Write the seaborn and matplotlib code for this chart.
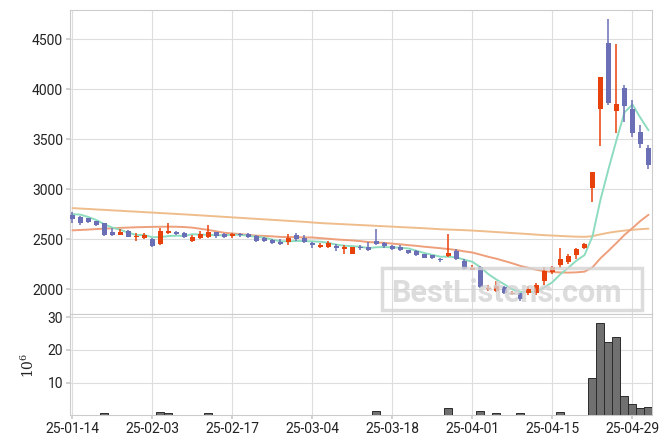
import matplotlib
import matplotlib.pyplot as plt
import numpy as np
import pandas as pd
import seaborn as sns
from matplotlib.patches import Rectangle

matplotlib.use("Agg")

# x tick labels (every 10 trading days)
TICK_LABELS = ["25-01-14", "25-02-03", "25-02-17", "25-03-04",
               "25-03-18", "25-04-01", "25-04-15", "25-04-29"]

# daily OHLC
OPEN = [2740, 2727, 2710, 2680, 2660, 2570, 2543, 2580, 2523, 2510,
        2507, 2453, 2560, 2573, 2560, 2480, 2513, 2523, 2570, 2553,
        2533, 2553, 2553, 2530, 2510, 2493, 2477, 2473, 2540, 2510,
        2463, 2423, 2423, 2433, 2407, 2357, 2423, 2427, 2483, 2463,
        2437, 2423, 2390, 2380, 2350, 2340, 2303, 2333, 2380, 2283,
        2193, 2223, 2000, 1983, 2023, 1953, 1960, 1960, 1960, 2080,
        2170, 2240, 2273, 2343, 2417, 3010, 3807, 4460, 3783, 4010,
        3807, 3577, 3417]
HIGH = [2773, 2730, 2715, 2687, 2663, 2617, 2607, 2590, 2567, 2567,
        2513, 2613, 2660, 2583, 2573, 2540, 2583, 2640, 2577, 2560,
        2567, 2567, 2560, 2540, 2520, 2507, 2507, 2550, 2567, 2540,
        2473, 2467, 2483, 2457, 2443, 2420, 2440, 2473, 2600, 2473,
        2443, 2447, 2393, 2390, 2353, 2343, 2317, 2550, 2400, 2300,
        2240, 2230, 2040, 2083, 2033, 1987, 1967, 2030, 2060, 2225,
        2235, 2410, 2357, 2410, 2460, 3177, 4127, 4707, 4450, 4043,
        3893, 3643, 3443]
LOW = [2663, 2647, 2667, 2633, 2537, 2537, 2543, 2520, 2483, 2503,
       2427, 2447, 2550, 2547, 2517, 2473, 2507, 2510, 2513, 2517,
       2513, 2520, 2513, 2477, 2473, 2450, 2447, 2447, 2487, 2460,
       2410, 2410, 2413, 2383, 2357, 2357, 2397, 2383, 2440, 2413,
       2397, 2383, 2353, 2333, 2313, 2307, 2273, 2327, 2290, 2193,
       2193, 2017, 1983, 1977, 1950, 1943, 1887, 1940, 1947, 2047,
       2150, 2217, 2250, 2300, 2407, 2877, 3433, 3843, 3560, 3673,
       3527, 3417, 3207]
CLOSE = [2707, 2667, 2673, 2643, 2547, 2543, 2570, 2527, 2533, 2540,
         2433, 2580, 2580, 2553, 2527, 2520, 2553, 2570, 2537, 2523,
         2553, 2543, 2523, 2483, 2483, 2460, 2457, 2517, 2503, 2477,
         2443, 2440, 2463, 2413, 2423, 2420, 2410, 2393, 2457, 2433,
         2403, 2393, 2360, 2343, 2317, 2313, 2297, 2367, 2303, 2200,
         2210, 2023, 2017, 2033, 1960, 1967, 1900, 2007, 2047, 2180,
         2228, 2300, 2330, 2400, 2450, 3177, 4127, 3860, 3857, 3833,
         3567, 3457, 3243]

# moving averages as drawn on the chart
MA5 = [2753, 2747, 2723, 2693, 2650, 2617, 2595, 2566, 2544, 2543,
       2521, 2523, 2533, 2537, 2535, 2552, 2547, 2545, 2541, 2541,
       2547, 2545, 2536, 2525, 2517, 2498, 2481, 2480, 2484, 2483,
       2479, 2476, 2465, 2447, 2436, 2432, 2426, 2412, 2421, 2423,
       2419, 2416, 2409, 2386, 2363, 2345, 2326, 2327, 2319, 2296,
       2275, 2221, 2151, 2097, 2049, 2000, 1975, 1973, 1976, 2020,
       2072, 2152, 2217, 2288, 2342, 2531, 2897, 3203, 3494, 3771,
       3849, 3715, 3591]
MA20 = [2590, 2594, 2598, 2603, 2607, 2611, 2615, 2618, 2621, 2623,
        2625, 2626, 2627, 2626, 2623, 2617, 2606, 2594, 2580, 2566,
        2559, 2552, 2545, 2537, 2534, 2530, 2524, 2523, 2522, 2519,
        2519, 2512, 2506, 2499, 2494, 2489, 2482, 2473, 2469, 2465,
        2457, 2450, 2442, 2435, 2426, 2419, 2411, 2403, 2393, 2380,
        2368, 2347, 2325, 2306, 2283, 2260, 2234, 2215, 2195, 2182,
        2173, 2169, 2167, 2170, 2177, 2220, 2311, 2386, 2464, 2545,
        2613, 2685, 2746]
MA120 = [2813, 2808, 2804, 2799, 2795, 2790, 2786, 2781, 2777, 2772,
         2768, 2763, 2759, 2754, 2750, 2745, 2740, 2735, 2730, 2725,
         2720, 2715, 2710, 2705, 2700, 2695, 2690, 2685, 2680, 2675,
         2669, 2663, 2659, 2655, 2651, 2647, 2643, 2639, 2635, 2631,
         2627, 2623, 2619, 2615, 2611, 2606, 2601, 2598, 2595, 2592,
         2588, 2583, 2578, 2573, 2568, 2563, 2558, 2553, 2547, 2542,
         2538, 2534, 2530, 2527, 2525, 2532, 2550, 2566, 2578, 2588,
         2596, 2602, 2607]

# volume, millions of shares
VOLUME = [0.2, 0.2, 0.2, 0.2, 0.6, 0.2, 0.2, 0.2, 0.2, 0.2,
          0.2, 0.95, 0.6, 0.2, 0.2, 0.2, 0.2, 0.6, 0.2, 0.2,
          0.2, 0.2, 0.2, 0.2, 0.2, 0.2, 0.2, 0.2, 0.2, 0.2,
          0.2, 0.2, 0.2, 0.2, 0.2, 0.2, 0.2, 0.2, 1.35, 0.2,
          0.2, 0.2, 0.2, 0.2, 0.2, 0.2, 0.2, 2.2, 0.2, 0.2,
          0.2, 1.2, 0.2, 0.6, 0.2, 0.2, 0.6, 0.2, 0.05, 0.2,
          0.2, 1.0, 0.05, 0.2, 0.2, 11.4, 28.2, 22.4, 23.9, 5.8,
          3.4, 2.2, 2.5]

UP = "#e8420c"
DOWN = "#6a6fb6"
GRID = "#dddddd"

sns.set_theme(style="whitegrid")
plt.rcParams.update({
    "axes.edgecolor": "#cccccc",
    "axes.linewidth": 0.8,
    "grid.color": GRID,
    "grid.linewidth": 0.8,
    "xtick.color": "#cccccc",
    "ytick.color": "#cccccc",
    "xtick.labelcolor": "#222222",
    "ytick.labelcolor": "#222222",
    "xtick.major.size": 3,
    "ytick.major.size": 3,
    "xtick.bottom": True,
    "ytick.left": True,
    "mathtext.fontset": "dejavuserif",
})
plt.rcParams["font.family"] = ["Roboto", "DejaVu Sans"]

df = pd.DataFrame({"open": OPEN, "high": HIGH, "low": LOW, "close": CLOSE,
                   "ma5": MA5, "ma20": MA20, "ma120": MA120, "vol": VOLUME})
df["day"] = np.arange(len(df))
df["up"] = df["close"] >= df["open"]
colors = np.where(df["up"], UP, DOWN)

fig = plt.figure(figsize=(6.71, 4.44), dpi=100)
fig.patch.set_facecolor("white")
ax = fig.add_axes([0.1043, 0.2921, 0.8674, 0.6865])
axv = fig.add_axes([0.1043, 0.0644, 0.8674, 0.2277])

# moving averages
sns.lineplot(data=df, x="day", y="ma120", color="#efbd8c", lw=1.4, ax=ax, zorder=2)
sns.lineplot(data=df, x="day", y="ma20", color="#eea07c", lw=1.4, ax=ax, zorder=2)
sns.lineplot(data=df, x="day", y="ma5", color="#8edcbf", lw=1.4, ax=ax, zorder=2)

# candles
ax.vlines(df["day"], df["low"], df["high"], colors=colors, lw=1.1, zorder=3)
body_low = np.minimum(df["open"], df["close"])
body_h = np.maximum((df["close"] - df["open"]).abs(), 10)
ax.bar(df["day"], body_h, bottom=body_low, width=0.62, color=colors,
       linewidth=0, zorder=4)

ax.set_ylim(1750, 4800)
ax.set_yticks([2000, 2500, 3000, 3500, 4000, 4500])
ax.set_xlabel("")
ax.set_ylabel("")

# volume
sns.barplot(data=df, x="day", y="vol", native_scale=True, width=1.0,
            color="#707070", saturation=1, edgecolor="#2b2b2b", linewidth=0.7,
            ax=axv, zorder=3)
axv.set_ylim(0, 30.9)
axv.set_yticks([10, 20, 30])
axv.set_xlabel("")
axv.set_ylabel("$10^6$", fontsize=10, color="#222222")
axv.yaxis.set_label_coords(-0.057, 0.5)

tick_pos = np.arange(0, 10 * len(TICK_LABELS), 10)
for a in (ax, axv):
    a.set_xlim(-0.31, 72.44)
    a.set_xticks(tick_pos)
    a.grid(True, color=GRID, lw=0.8)
    a.tick_params(labelsize=10, pad=2)
    for s in a.spines.values():
        s.set_color("#cccccc")
ax.set_xticklabels([])
axv.set_xticklabels(TICK_LABELS)

# watermark
fig.patches.append(Rectangle((0.5693, 0.3018), 0.3875, 0.0946, transform=fig.transFigure,
                             fill=False, edgecolor="#d4d4d4", lw=2.5, alpha=0.8, zorder=10))
fig.text(0.755, 0.3205, "BestListens.com", ha="center", va="baseline",
         fontsize=22, fontweight="bold", color="#d4d4d4", alpha=0.8,
         family=["Roboto", "DejaVu Sans"], zorder=10)

fig.savefig("out.png", dpi=100, facecolor="white")
plt.close(fig)
